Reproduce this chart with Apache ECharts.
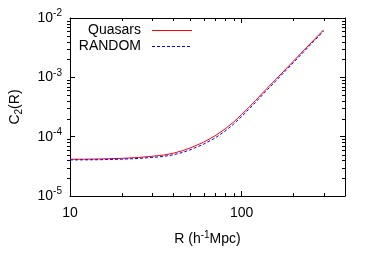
<!DOCTYPE html>
<html>
<head>
<meta charset="utf-8">
<script src="https://cdn.jsdelivr.net/npm/echarts@6/dist/echarts.min.js"></script>
<style>
  html, body { margin: 0; padding: 0; background: #fff; }
  #chart { width: 374px; height: 262px; }
</style>
</head>
<body>
<div id="chart"></div>
<script>
// separation R (h^-1 Mpc)
const rValues = [10, 12, 15, 20, 25, 30, 35, 40, 45, 50, 60, 70, 80, 90, 100, 110, 120, 140, 160, 200, 250, 300];
// C2(R), in units of 1e-5
const quasars = [4.16, 4.175, 4.21, 4.31, 4.46, 4.67, 4.89, 5.26, 5.78, 6.42, 8.06, 10.32, 13.48, 17.78, 23.64, 31.0, 40.3, 64.5, 95.7, 186.8, 365, 630];
const random = [4.06, 4.07, 4.09, 4.17, 4.29, 4.46, 4.64, 4.94, 5.40, 5.97, 7.46, 9.49, 12.40, 16.36, 21.87, 28.83, 37.48, 60.3, 90.0, 176.5, 346.8, 602];
const unit = 1e-5;
const xRange = [10, 400];
const yRange = [1e-5, 1e-2];
const xMinorTicks = [20, 30, 40, 50, 60, 70, 80, 90, 200, 300, 400];
const yMinorTicks = [];
[1e-5, 1e-4, 1e-3].forEach(d => { for (let k = 2; k <= 9; k++) yMinorTicks.push(d * k); });
const legendNames = ['Quasars', 'RANDOM'];

const font = 'Liberation Sans, Arial, sans-serif';
let myChart = echarts.init(document.getElementById('chart'));

const pow10 = (v) => {
  let e = Math.round(Math.log10(v));
  return '{b|10}{s|' + e + '}';
};

const tickStyle = { show: true, inside: true, length: 5, lineStyle: { color: '#000', width: 1 } };
const lineStyleAxis = { show: true, lineStyle: { color: '#000', width: 1 } };

let option = {
  animation: false,
  grid: { left: 67, right: 29, top: 18, bottom: 66 },
  xAxis: [
    {
      type: 'log', logBase: 10, min: xRange[0], max: xRange[1], position: 'bottom',
      name: '{n|R (h}{s|-1}{n|Mpc)}', nameLocation: 'middle', nameGap: 34,
      nameTextStyle: {
        rich: {
          n: { fontFamily: font, fontSize: 14, color: '#000' },
          s: { fontFamily: font, fontSize: 10, color: '#000', padding: [0, 0, 9, 0] }
        }
      },
      axisLine: lineStyleAxis, axisTick: tickStyle, splitLine: { show: false },
      axisLabel: { margin: 10, fontFamily: font, fontSize: 14, color: '#000', showMaxLabel: false },
    },
    {
      type: 'log', logBase: 10, min: xRange[0], max: xRange[1], position: 'top',
      axisLine: lineStyleAxis, axisTick: tickStyle, axisLabel: { show: false }, splitLine: { show: false }
    }
  ],
  yAxis: [
    {
      type: 'log', logBase: 10, min: yRange[0], max: yRange[1], position: 'left',
      name: '{n|C}{u|2}{n|(R)}', nameLocation: 'middle', nameGap: 46, nameRotate: 90,
      nameTextStyle: {
        rich: {
          n: { fontFamily: font, fontSize: 14, color: '#000' },
          u: { fontFamily: font, fontSize: 10, color: '#000', padding: [8, 0, 0, 0] }
        }
      },
      axisLine: lineStyleAxis, axisTick: tickStyle, splitLine: { show: false },
      axisLabel: {
        margin: 8, formatter: pow10,
        rich: {
          b: { fontFamily: font, fontSize: 14, color: '#000' },
          s: { fontFamily: font, fontSize: 10, color: '#000', padding: [0, 0, 9, 0] }
        }
      }
    },
    {
      type: 'log', logBase: 10, min: yRange[0], max: yRange[1], position: 'right',
      axisLine: lineStyleAxis, axisTick: tickStyle, axisLabel: { show: false }, splitLine: { show: false }
    }
  ],
  series: [
    {
      name: legendNames[0], type: 'line', showSymbol: false, smooth: false,
      data: rValues.map((r, i) => [r, quasars[i] * unit]),
      lineStyle: { color: '#ff0000', width: 1 }, itemStyle: { color: '#ff0000' }
    },
    {
      name: legendNames[1], type: 'line', showSymbol: false, smooth: false,
      data: rValues.map((r, i) => [r, random[i] * unit]),
      lineStyle: { color: '#0000ff', width: 1, type: [3, 2] }, itemStyle: { color: '#0000ff' }
    }
  ]
};

option && myChart.setOption(option);

// minor log ticks on all four sides + gnuplot style key
const drawExtras = () => {
  let els = [];
  let top = 18, bottom = 262 - 66, left = 67, right = 374 - 29;
  xMinorTicks.forEach(v => {
    let px = Math.round(myChart.convertToPixel({ xAxisIndex: 0 }, v)) + 0.5;
    els.push({ type: 'line', shape: { x1: px, y1: bottom, x2: px, y2: bottom - 3 }, style: { stroke: '#000', lineWidth: 1 } });
    els.push({ type: 'line', shape: { x1: px, y1: top, x2: px, y2: top + 3 }, style: { stroke: '#000', lineWidth: 1 } });
  });
  yMinorTicks.forEach(v => {
    let py = Math.round(myChart.convertToPixel({ yAxisIndex: 0 }, v)) + 0.5;
    els.push({ type: 'line', shape: { x1: left, y1: py, x2: left + 3, y2: py }, style: { stroke: '#000', lineWidth: 1 } });
    els.push({ type: 'line', shape: { x1: right, y1: py, x2: right - 3, y2: py }, style: { stroke: '#000', lineWidth: 1 } });
  });
  const keyColors = ['#ff0000', '#0000ff'];
  const keyDash = [null, [3, 2]];
  legendNames.forEach((name, i) => {
    let y = 30 + i * 16;
    els.push({
      type: 'text', x: 141, y: y,
      style: { text: name, fill: '#000', font: '14px ' + font, align: 'right', verticalAlign: 'middle' }
    });
    els.push({
      type: 'line', shape: { x1: 152, y1: y + 0.5, x2: 192, y2: y + 0.5 },
      style: { stroke: keyColors[i], lineWidth: 1, lineDash: keyDash[i] }
    });
  });
  myChart.setOption({ graphic: els });
};
drawExtras();
</script>
</body>
</html>
